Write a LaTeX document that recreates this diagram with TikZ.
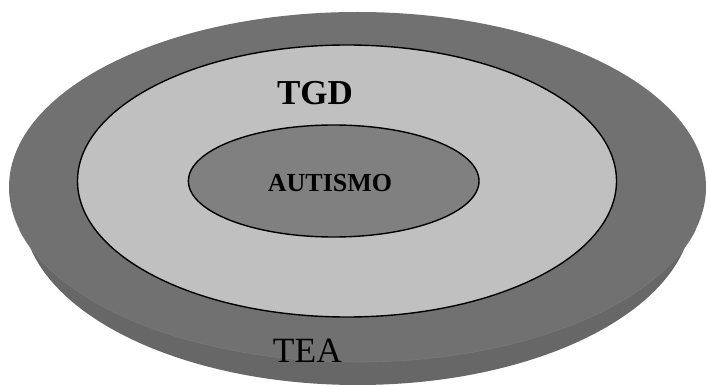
\documentclass[tikz,border=0pt]{standalone}
\usepackage{fontspec}
\setmainfont{Liberation Serif}
\definecolor{facegray}{HTML}{717171}
\definecolor{sidegray}{HTML}{676767}
\definecolor{edgegray}{HTML}{797979}
\definecolor{ringgray}{HTML}{C0C0C0}
\definecolor{coregray}{HTML}{808080}
\tikzset{
  ring/.style={draw=black, line width=1.4pt},
  lbl/.style={anchor=base, inner sep=0pt, text=black}
}
\begin{document}
\begin{tikzpicture}[x=1pt,y=-1pt]
\useasboundingbox (0,0) rectangle (707,385);
% disc side
\fill[sidegray] (357.5,210) ellipse [x radius=335, y radius=175];
% top face of disc
\fill[facegray] (357.5,187) ellipse [x radius=348.5, y radius=175];
\begin{scope}
  \clip (0,230) rectangle (707,385);
  \draw[edgegray, line width=0.6pt] (357.5,187) ellipse [x radius=348.5, y radius=175];
\end{scope}
% TGD ring
\filldraw[ring, fill=ringgray] (347,181) ellipse [x radius=269.5, y radius=136];
% core
\filldraw[ring, fill=coregray] (333.7,181) ellipse [x radius=145.3, y radius=56];
% labels
\node[lbl, font=\fontsize{35}{40}\selectfont\bfseries] (tgd) at (315,105) {TGD};
\node[lbl, font=\fontsize{26}{30}\selectfont\bfseries] (aut) at (330,191) {AUTISMO};
\node[lbl, font=\fontsize{35.5}{40}\selectfont] (tea) at (307.5,362) {TEA};
\end{tikzpicture}
\end{document}
